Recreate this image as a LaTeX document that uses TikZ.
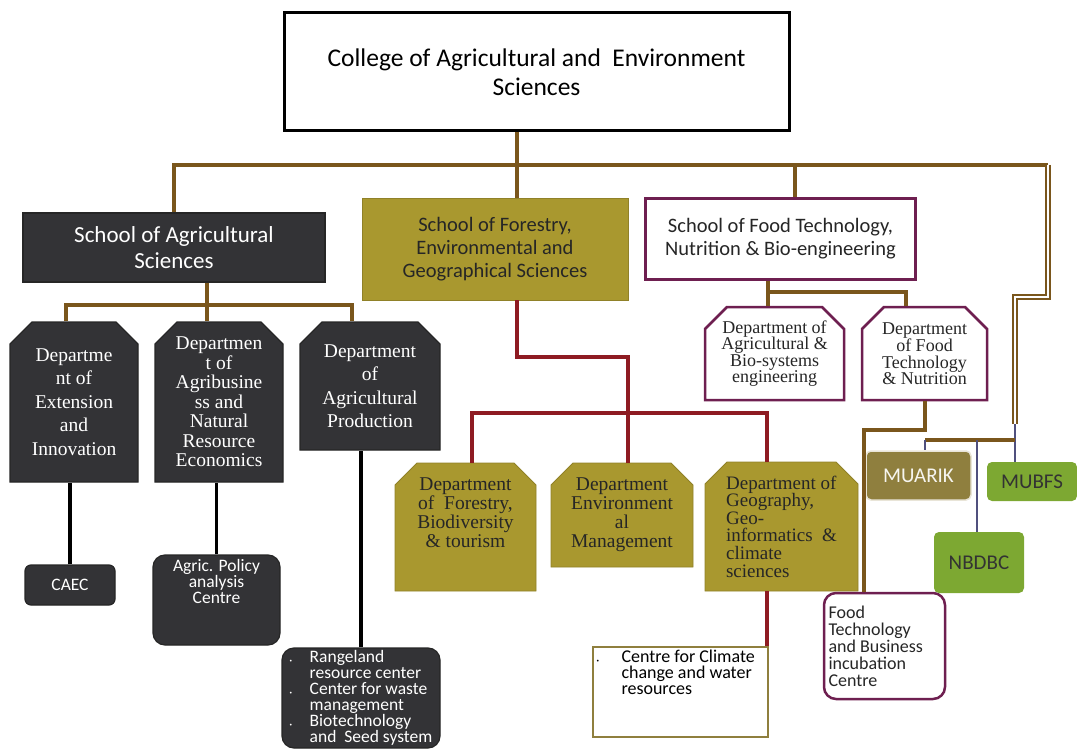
\documentclass[tikz,border=0pt]{standalone}
\usepackage{fontspec}
\setmainfont{Liberation Serif}
\setsansfont{Carlito}
\usetikzlibrary{positioning, calc, shapes.misc}
\definecolor{Slate}{HTML}{333336}
\definecolor{Olive}{HTML}{A9982F}
\definecolor{Plum}{HTML}{6E1F50}
\definecolor{Umber}{HTML}{7A561C}
\definecolor{Crimson}{HTML}{8E1B22}
\definecolor{Navy}{HTML}{50507E}
\definecolor{Khaki}{HTML}{8F7F3E}
\definecolor{Leaf}{HTML}{7DA832}
\tikzstyle{Box} = [rectangle, inner sep=2pt, align=center, font=\sffamily]
\tikzstyle{Dark} = [Box, fill=Slate, draw=black!85, line width=1.2pt, text=white]
\tikzstyle{Gold} = [Box, fill=Olive, draw=Olive!85!black, line width=0.8pt, text=black!85]
\tikzstyle{Plain} = [Box, fill=white, draw=Plum, line width=2.5pt, text=black!85]
\tikzstyle{Dept} = [chamfered rectangle, chamfered rectangle corners={north west, north east},
chamfered rectangle xsep=11pt, chamfered rectangle ysep=11pt, inner sep=2pt]
\tikzstyle{Small} = [font=\sffamily\fontsize{17.5}{16}\selectfont, rounded corners=9pt]
\tikzstyle{Unit} = [Box, rounded corners=5pt, font=\sffamily\fontsize{21}{21}\selectfont]
\tikzstyle{Link} = [line width=3.2pt, color=Umber]
\tikzstyle{DoubleLink} = [draw=Umber, double=white, double distance=2pt, line width=1.6pt]
\tikzstyle{RedLink} = [line width=3.2pt, color=Crimson]
\tikzstyle{BlackLink} = [line width=3.2pt, color=black]
\tikzstyle{NavyLink} = [line width=2.8pt, color=Navy]

\begin{document}
\begin{tikzpicture}[x=1pt, y=-1pt]
    \useasboundingbox (0,0) rectangle (1077,749);
    \node [Box, draw, line width=3pt, minimum width=505, minimum height=118,
        font=\sffamily\fontsize{25.5}{29}\selectfont] (1) at (536.5,72) {College of Agricultural and\ \ Environment\\Sciences};
    \node [Dark, minimum width=302, minimum height=69, font=\sffamily\fontsize{23}{26}\selectfont] (2) at (174,247.5) {School of Agricultural\\Sciences};
    \node [Gold, minimum width=266, minimum height=102, font=\sffamily\fontsize{20.5}{23}\selectfont] (3) at (495,249) {School of Forestry,\\Environmental and\\Geographical Sciences};
    \node [Plain, minimum width=270, minimum height=81, font=\sffamily\fontsize{20.5}{23}\selectfont] (4) at (780.5,239) {School of Food Technology,\\Nutrition \& Bio-engineering};
    \node [Dark, Dept, minimum width=128, minimum height=160, font=\fontsize{19.5}{23.5}\selectfont] (5) at (74,402) {Departme\\nt of\\Extension\\and\\Innovation};
    \node [Dark, Dept, minimum width=128, minimum height=160, font=\fontsize{19.5}{19.5}\selectfont] (6) at (219,402) {Departmen\\t of\\Agribusine\\ss and\\Natural\\Resource\\Economics};
    \node [Dark, Dept, minimum width=140, minimum height=128, font=\fontsize{19.5}{23.5}\selectfont] (7) at (370,386) {Department\\of\\Agricultural\\Production};
    \node [Dark, Small, rounded corners=6pt, minimum width=90, minimum height=40] (8) at (70,585) {CAEC};
    \node [Dark, Small, rounded corners=12pt, minimum width=127, minimum height=90, text depth=38pt] (9) at (216.5,600) {Agric. Policy\\analysis\\Centre};
    \node [Dark, Small, align=left, rounded corners=12pt, minimum width=158, minimum height=100] (10) at (361,698) {\makebox[20pt][l]{\tiny\textbullet}Rangeland\\\hspace*{20pt}resource center\\\makebox[20pt][l]{\tiny\textbullet}Center for waste\\\hspace*{20pt}management\\\makebox[20pt][l]{\tiny\textbullet}Biotechnology\\\hspace*{20pt}and\ \ Seed system};
    \node [Gold, Dept, minimum width=141, minimum height=128, font=\fontsize{19.5}{19}\selectfont] (11) at (465.5,527) {Department\\of\ \ Forestry,\\Biodiversity\\\& tourism\\[10pt]};
    \node [Gold, Dept, minimum width=142, minimum height=104, font=\fontsize{19.5}{19}\selectfont] (12) at (622,515) {Department\\Environment\\al\\Management};
    \node [Gold, Dept, minimum width=153, minimum height=129, align=left, font=\fontsize{19}{17.6}\selectfont] (13) at (781.5,526.5) {Department of\\Geography,\\Geo-\\informatics\ \ \&\\climate\\sciences};
    \node [Box, draw=Khaki, fill=white, line width=2.5pt, minimum width=175, minimum height=90, inner sep=1pt] (14) at (680.5,692)
        {\begin{minipage}[t][84pt][t]{168pt}\raggedright\fontsize{18}{16}\selectfont\makebox[25pt][l]{\tiny\textbullet}Centre for Climate\\\hspace*{25pt}change and water\\\hspace*{25pt}resources\end{minipage}};
    \node [Plain, Dept, minimum width=139, minimum height=93, font=\fontsize{18}{16.5}\selectfont] (15) at (774.5,353.5) {Department of\\Agricultural \&\\Bio-systems\\engineering};
    \node [Plain, Dept, minimum width=125, minimum height=93, font=\fontsize{18}{16.5}\selectfont] (16) at (924.5,353.5) {Department\\of Food\\Technology\\\& Nutrition};
    \node [Plain, rounded corners=12pt, minimum width=121, minimum height=106] (17) at (884.5,646)
        {\begin{minipage}{112pt}\raggedright\fontsize{18}{17}\selectfont Food\\Technology\\and Business\\incubation\\Centre\\[6pt]\end{minipage}};
    \node [Unit, fill=Khaki, draw=white!80!Khaki, line width=1.5pt, text=white!92!Khaki, minimum width=105, minimum height=49] (18) at (918.5,475.5) {MUARIK};
    \node [Unit, fill=Leaf, text=black!80, minimum width=90, minimum height=39] (19) at (1032,481.5) {MUBFS};
    \node [Unit, fill=Leaf, text=black!80, minimum width=90, minimum height=61] (20) at (979,562.5) {NBDBC};
    \coordinate (b1) at (517,165); \coordinate (b2) at (795,165); \coordinate (b3) at (1048,165);
    \coordinate (b4) at (1048,297); \coordinate (b5) at (1015,297); \coordinate (b6) at (1015,424);
    \coordinate (b7) at (1015,440); \coordinate (b8) at (925,440); \coordinate (b9) at (977,440);
    \coordinate (a1) at (207,305); \coordinate (a2) at (66,305); \coordinate (a3) at (352,305);
    \coordinate (f1) at (517,357); \coordinate (f2) at (628,357); \coordinate (f4) at (472,413); \coordinate (f5) at (767,413);
    \coordinate (d1) at (768,292); \coordinate (d2) at (906,292); \coordinate (d3) at (925,430); \coordinate (d4) at (864,430);
    \draw [Link] (b1 |- 1.south) -- (b1); \draw [Link] (2.north) |- (b1) -- (b1 |- 3.north);
    \draw [Link] (b1) -- (b3); \draw [Link] (b2) -- (b2 |- 4.north);
    \draw [DoubleLink] (b3) -- (b4) -- (b5) -- (b6);
    \draw [NavyLink] (b6) -- (b6 |- 19.north);
    \draw [Link] (b8) -- (b7);
    \draw [NavyLink] (b8) -- (b8 |- 18.north); \draw [NavyLink] (b9) -- (b9 |- 20.north);
    \draw [Link] (2.south -| a1) -- (a1) -- (a1 |- 6.north);
    \draw [Link] (a2 |- 5.north) -- (a2) -- (a3) -- (a3 |- 7.north);
    \draw [BlackLink] (8.north) -- (8.north |- 5.south);
    \draw [BlackLink] (9.north) -- (9.north |- 6.south);
    \draw [BlackLink] (10.north) -- (10.north |- 7.south);
    \draw [RedLink] (3.south -| f1) -- (f1) -- (f2) -- (f2 |- 12.north);
    \draw [RedLink] (f4 |- 11.north) -- (f4) -- (f5) -- (f5 |- 13.north);
    \draw [RedLink] (f5 |- 13.south) -- (f5 |- 14.north);
    \draw [Link] (4.south -| d1) -- (d1) -- (d2) -- (d2 |- 16.north); \draw [Link] (d1) -- (d1 |- 15.north);
    \draw [Link] (d3 |- 16.south) -- (d3) -- (d4) -- (d4 |- 17.north);
\end{tikzpicture}
\end{document}
